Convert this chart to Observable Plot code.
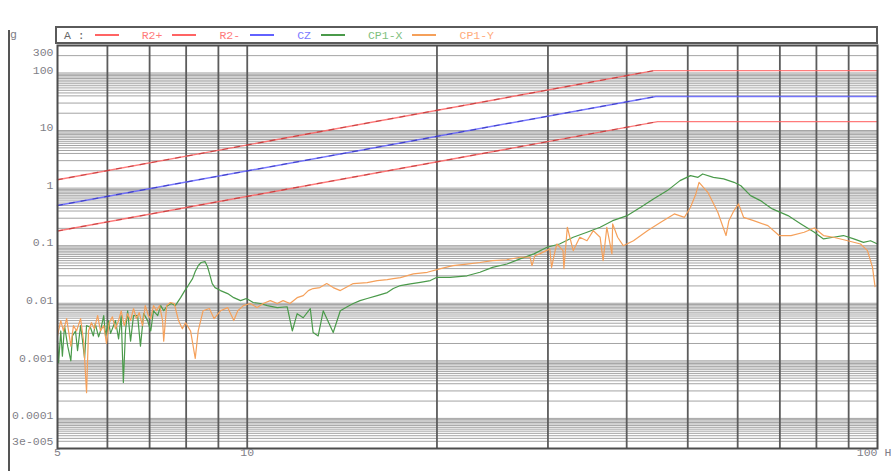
<!DOCTYPE html>
<html>
<head>
<meta charset="utf-8">
<script src="https://cdn.jsdelivr.net/npm/d3@7"></script>
<script src="https://cdn.jsdelivr.net/npm/@observablehq/plot@0.6"></script>
<style>
  html, body { margin: 0; padding: 0; background: #fff; }
  #chart { position: relative; width: 891px; height: 471px; overflow: hidden; font-family: "Liberation Mono", "DejaVu Sans Mono", monospace; }
  #head { position: relative; height: 44px; }
  #unit { position: absolute; left: 10px; top: 28px; font-size: 11.5px; color: #808088; }
  #spine { position: absolute; left: 8px; top: 30px; width: 2px; height: 441px; background: #555; }
  #legend { position: absolute; left: 55px; top: 26px; width: 812px; height: 14px; border: 2px solid #5a5a5a;
            display: flex; align-items: center; font-size: 11.5px; padding-left: 7px; box-sizing: content-box; }
  #legend .sw { display: inline-block; width: 24px; height: 2px; margin-right: 23px; }
  #legend .lb { margin-right: 10px; white-space: pre; }
  #chart svg { display: block; }
</style>
</head>
<body>
<div id="chart">
  <div id="head"><div id="unit">g</div><div id="legend"></div></div>
  <div id="spine"></div>
</div>
<script>
// Series names and colours
const seriesNames = ["R2+", "R2-", "CZ", "CP1-X", "CP1-Y"];
const seriesColors = ["#ff6464", "#ff6464", "#6262ff", "#4a9a4a", "#f5a05a"];
const legendTextColors = ["#ff7a7a", "#ff7a7a", "#7a7aff", "#7fbf7f", "#ffaa7a"];
const slopeShade = {"R2+": "#a01818", "R2-": "#a01818", "CZ": "#1818a0"};

// Abort limits and control profile (frequency in Hz, acceleration in g)
const r2PlusFreq = [5, 44.2, 100];
const r2PlusG = [1.4, 110, 110];
const czFreq = [5, 44.5, 100];
const czG = [0.5, 39, 39];
const r2MinusFreq = [5, 44.8, 100];
const r2MinusG = [0.18, 14.3, 14.3];

// Response channel CP1-X
const cp1xFreq = [5.00, 5.02, 5.06, 5.09, 5.13, 5.19, 5.25, 5.28, 5.34, 5.38, 5.44, 5.48, 5.52, 5.56, 5.64, 5.70, 5.74, 5.81, 5.85, 5.92,
  5.96, 6.02, 6.07, 6.18, 6.25, 6.31, 6.36, 6.41, 6.46, 6.53, 6.60, 6.70, 6.77, 6.85, 6.95, 7.03, 7.10, 7.21, 7.29, 7.37,
  7.47, 7.58, 7.69, 7.84, 7.96, 8.06, 8.19, 8.27, 8.36, 8.45, 8.57, 8.65, 8.71, 8.80, 8.89, 9.07, 9.31, 9.52, 9.76, 9.97,
  10.22, 10.49, 10.76, 11.16, 11.57, 11.79, 12.0, 12.27, 12.59, 12.72, 12.96, 13.2, 13.69, 14.05, 14.41, 14.73, 15.1, 15.5, 16.08, 16.68,
  17.05, 17.5, 18.15, 18.82, 19.52, 20.0, 20.97, 22.32, 23.4, 24.5, 25.83, 27.1, 28.5, 29.9, 31.3, 32.9, 34.6, 36.3, 38.0, 40.1,
  42.1, 44.1, 46.4, 48.6, 50.5, 51.9, 52.8, 54.9, 57.0, 59.2, 60.7, 62.9, 65.2, 68.1, 72.1, 75.6, 79.4, 82.1, 85.1, 88.3,
  91.7, 95.0, 97.5, 100];
const cp1xG = [0.0022, 0.00093, 0.0033, 0.0012, 0.0041, 0.0018, 0.0010, 0.0027, 0.0033, 0.0015, 0.0041, 0.0022, 0.0011, 0.0041, 0.0038, 0.0027, 0.0044, 0.0026, 0.0033, 0.0061,
  0.0027, 0.0050, 0.0030, 0.0050, 0.0024, 0.0061, 0.00042, 0.0033, 0.0074, 0.0022, 0.0061, 0.0061, 0.0018, 0.0066, 0.0050, 0.0033, 0.0074, 0.0061, 0.0091, 0.0074,
  0.0091, 0.0099, 0.0091, 0.0125, 0.0166, 0.0203, 0.0268, 0.0355, 0.045, 0.051, 0.053, 0.043, 0.033, 0.022, 0.0187, 0.0166, 0.0147, 0.0125, 0.0111, 0.0121,
  0.0103, 0.0099, 0.0091, 0.0084, 0.0087, 0.0033, 0.0066, 0.0056, 0.0081, 0.0031, 0.0027, 0.0074, 0.0031, 0.0074, 0.0087, 0.0099, 0.0111, 0.0121, 0.0136, 0.0153,
  0.018, 0.0203, 0.0217, 0.0231, 0.0248, 0.0282, 0.0282, 0.030, 0.0345, 0.042, 0.048, 0.059, 0.072, 0.094, 0.107, 0.140, 0.171, 0.209, 0.272, 0.333,
  0.464, 0.649, 0.905, 1.35, 1.65, 1.54, 1.76, 1.54, 1.45, 1.26, 1.10, 0.741, 0.607, 0.435, 0.333, 0.239, 0.171, 0.131, 0.140, 0.150,
  0.131, 0.114, 0.122, 0.107];

// Response channel CP1-Y
const cp1yFreq = [5.00, 5.06, 5.11, 5.17, 5.25, 5.30, 5.36, 5.44, 5.50, 5.56, 5.60, 5.66, 5.72, 5.79, 5.85, 5.92, 5.98, 6.04, 6.11, 6.18,
  6.25, 6.31, 6.38, 6.46, 6.53, 6.60, 6.67, 6.74, 6.82, 6.89, 6.97, 7.03, 7.10, 7.18, 7.26, 7.34, 7.37, 7.45, 7.55, 7.66,
  7.78, 7.89, 7.98, 8.13, 8.27, 8.36, 8.51, 8.71, 8.86, 9.07, 9.31, 9.52, 9.66, 9.86, 10.11, 10.37, 10.6, 10.88, 11.16, 11.4,
  11.69, 12.0, 12.27, 12.5, 12.72, 13.04, 13.37, 13.69, 14.05, 14.73, 15.5, 16.08, 16.68, 17.05, 17.5, 18.35, 19.31, 20.2, 21.2, 22.3,
  23.4, 24.5, 25.8, 27.1, 28.1, 28.3, 28.6, 29.1, 30.2, 30.4, 30.8, 31.0, 31.7, 31.8, 32.2, 32.9, 33.7, 34.6, 35.4, 36.3,
  36.7, 37.2, 37.9, 38.0, 38.7, 39.5, 41.0, 43.2, 45.3, 47.6, 49.4, 50.5, 51.5, 52.1, 53.8, 55.8, 57.5, 58.1, 59.2, 60.2,
  61.3, 63.6, 67.0, 69.8, 72.9, 76.5, 79.4, 82.1, 85.1, 89.7, 94.0, 96.4, 98.2, 99.1];
const cp1yG = [0.0027, 0.0050, 0.0033, 0.0054, 0.0018, 0.0041, 0.0033, 0.0054, 0.0022, 0.00028, 0.0033, 0.0046, 0.0036, 0.0061, 0.0033, 0.0041, 0.0020, 0.0046, 0.0058, 0.0036,
  0.0050, 0.0074, 0.0041, 0.0066, 0.0050, 0.0081, 0.0054, 0.0069, 0.0041, 0.0091, 0.0061, 0.0054, 0.0091, 0.0074, 0.0091, 0.0050, 0.0022, 0.0091, 0.0103, 0.0099,
  0.0050, 0.0036, 0.0046, 0.0033, 0.0011, 0.0033, 0.0074, 0.0081, 0.0054, 0.0074, 0.0084, 0.0050, 0.0074, 0.0091, 0.0099, 0.0084, 0.0099, 0.0111, 0.0099, 0.0111,
  0.0099, 0.0125, 0.0136, 0.0166, 0.018, 0.0187, 0.022, 0.0187, 0.0166, 0.022, 0.0229, 0.0248, 0.0258, 0.0268, 0.0279, 0.0324, 0.0345, 0.0395, 0.045, 0.048,
  0.051, 0.055, 0.057, 0.063, 0.063, 0.045, 0.067, 0.072, 0.088, 0.042, 0.082, 0.107, 0.082, 0.040, 0.209, 0.082, 0.140, 0.122, 0.183, 0.140,
  0.055, 0.209, 0.072, 0.239, 0.140, 0.100, 0.122, 0.183, 0.255, 0.356, 0.311, 0.464, 0.793, 1.26, 0.845, 0.380, 0.150, 0.272, 0.407, 0.532,
  0.311, 0.272, 0.223, 0.150, 0.150, 0.171, 0.203, 0.150, 0.140, 0.122, 0.107, 0.082, 0.042, 0.0195];

// Axis ticks and grid
const freqTicks = [5, 10, 100];
const freqTickLabels = ["5", "10", "100 Hz"];
const freqGrid = [6, 7, 8, 9, 10, 20, 30, 40, 50, 60, 70, 80, 90];
const ampTicks = [1e-4, 1e-3, 1e-2, 0.1, 1, 10, 100];
const ampTickLabels = ["0.0001", "0.001", "0.01", "0.1", "1", "10", "100"];
const ampTop = 300, ampTopLabel = "300";
const ampBottom = 3e-5, ampBottomLabel = "3e-005";
const gridMantissas = [1, 2, 3, 4, 4.5, 5, 5.5, 6, 6.5, 7, 7.5, 8, 8.5, 9, 9.5];
const gridDecades = [1e-5, 1e-4, 1e-3, 1e-2, 0.1, 1, 10, 100];

const ampGrid = gridDecades.flatMap(d => gridMantissas.map(m => +(m * d).toPrecision(3)))
  .filter(v => v > ampBottom && v < ampTop);

const toRows = (fs, gs, name) => fs.map((f, i) => ({f, g: gs[i], name}));
const limits = [
  ...toRows(r2PlusFreq, r2PlusG, "R2+"),
  ...toRows(r2MinusFreq, r2MinusG, "R2-"),
  ...toRows(czFreq, czG, "CZ")
];
// rising (constant-displacement) part of each limit line
const slopes = [
  ...toRows(r2PlusFreq.slice(0, 2), r2PlusG.slice(0, 2), "R2+"),
  ...toRows(r2MinusFreq.slice(0, 2), r2MinusG.slice(0, 2), "R2-"),
  ...toRows(czFreq.slice(0, 2), czG.slice(0, 2), "CZ")
];
const cp1x = toRows(cp1xFreq, cp1xG, "CP1-X");
const cp1y = toRows(cp1yFreq, cp1yG, "CP1-Y");
const colorOf = Object.fromEntries(seriesNames.map((n, i) => [n, seriesColors[i]]));

const labelColor = "#7f8088";
const chart = Plot.plot({
  width: 891,
  height: 427,
  marginLeft: 57,
  marginRight: 14,
  marginTop: 1,
  marginBottom: 23,
  x: {type: "log", domain: [5, 100], axis: null},
  y: {type: "log", domain: [ampBottom, ampTop], axis: null},
  style: {fontFamily: "Liberation Mono, DejaVu Sans Mono, monospace", fontSize: "11.5px", background: "#fff", overflow: "visible"},
  marks: [
    Plot.ruleY(ampGrid, {y: d => d, stroke: "#a4a4a4", strokeWidth: 1}),
    Plot.ruleX(freqGrid, {x: d => d, stroke: "#5c5c5c", strokeWidth: 1.8}),
    Plot.line(limits, {x: "f", y: "g", z: "name", stroke: d => colorOf[d.name], strokeWidth: 1.4, strokeOpacity: 0.85}),
    Plot.line(slopes, {x: "f", y: "g", z: "name", stroke: d => slopeShade[d.name], strokeWidth: 1.2, strokeDasharray: "5,7", strokeOpacity: 0.55}),
    Plot.line(cp1x, {x: "f", y: "g", stroke: colorOf["CP1-X"], strokeWidth: 1.2}),
    Plot.line(cp1y, {x: "f", y: "g", stroke: colorOf["CP1-Y"], strokeWidth: 1.2}),
    Plot.frame({stroke: "#4d4d4d", strokeWidth: 2}),
    Plot.text(ampTicks, {y: d => d, text: (d, i) => ampTickLabels[i], frameAnchor: "left", textAnchor: "end", dx: -4, dy: -3, fill: labelColor}),
    Plot.text([ampTop], {y: d => d, text: () => ampTopLabel, frameAnchor: "left", textAnchor: "end", dx: -4, dy: 7, fill: labelColor}),
    Plot.text([ampBottom], {y: d => d, text: () => ampBottomLabel, frameAnchor: "left", textAnchor: "end", dx: -4, dy: -7, fill: labelColor}),
    Plot.text(freqTicks, {x: d => d, text: (d, i) => freqTickLabels[i], frameAnchor: "bottom", dy: 7.5, fill: labelColor})
  ]
});

document.getElementById("chart").appendChild(chart);

// legend row
const legend = document.getElementById("legend");
const head = document.createElement("span");
head.className = "lb";
head.textContent = "A :";
head.style.color = "#666";
legend.appendChild(head);
seriesNames.forEach((n, i) => {
  const sw = document.createElement("span");
  sw.className = "sw";
  sw.style.background = seriesColors[i];
  legend.appendChild(sw);
  const lb = document.createElement("span");
  lb.className = "lb";
  lb.textContent = n;
  lb.style.color = legendTextColors[i];
  legend.appendChild(lb);
});
</script>
</body>
</html>
